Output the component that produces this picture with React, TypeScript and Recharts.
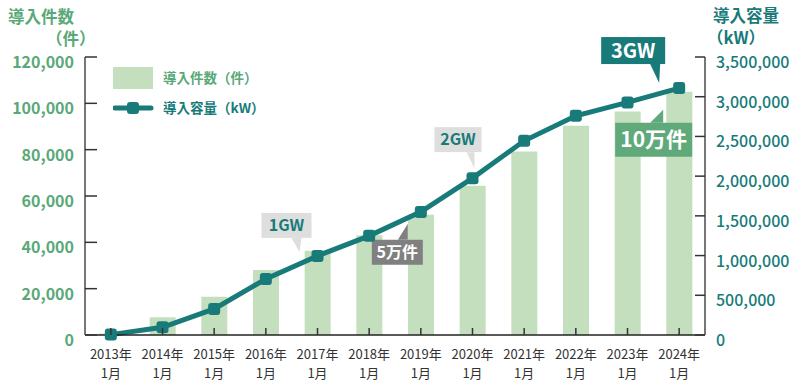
import React from 'react';
import { ComposedChart, Bar, Line, XAxis, YAxis, ReferenceDot, Legend } from 'recharts';

const years = ['2013年', '2014年', '2015年', '2016年', '2017年', '2018年', '2019年', '2020年', '2021年', '2022年', '2023年', '2024年'];
const monthLabel = '1月';
const installCounts = [600, 7650, 16550, 28100, 36400, 43100, 51900, 64400, 79200, 90300, 96500, 105000];
const capacityKw = [5000, 97000, 328000, 706000, 996000, 1248000, 1550000, 1975000, 2445000, 2760000, 2928000, 3109000];
const countTicks = [0, 20000, 40000, 60000, 80000, 100000, 120000];
const capacityTicks = [0, 500000, 1000000, 1500000, 2000000, 2500000, 3000000, 3500000];

const countName = '導入件数（件）';
const capacityName = '導入容量（kW）';

const GREEN = '#5aa878';
const TEAL = '#187b7a';
const BAR = '#c4dfbe';
const FONT = '"Noto Sans CJK JP", "Noto Sans", sans-serif';

const data = years.map((year, i) => ({ year, count: installCounts[i], capacity: capacityKw[i] }));

// callouts: anchored to a data point, offsets in px from that point
const callouts = [
  { text: '1GW', year: '2017年', axis: 'right', key: 'capacity', fill: '#dedede', color: TEAL, size: 16,
    box: [-56, -43, 50, 25], tail: [[-26, -18], [-16, -18], [-18, -4]] },
  { text: '5万件', year: '2019年', axis: 'left', key: 'count', fill: '#808080', color: '#fff', size: 16,
    box: [-49, 25, 51, 25], tail: [[-23, 25], [-13, 25], [-13, 9]] },
  { text: '2GW', year: '2020年', axis: 'right', key: 'capacity', fill: '#dedede', color: TEAL, size: 16,
    box: [-38, -51, 47, 25], tail: [[-6, -26], [2, -26], [2, -10]] },
  { text: '3GW', year: '2024年', axis: 'right', key: 'capacity', fill: TEAL, color: '#fff', size: 20,
    box: [-78, -51, 64, 27], tail: [[-29, -24], [-19, -24], [-20, -5]] },
  { text: '10万件', year: '2024年', axis: 'left', key: 'count', fill: '#5fa97b', color: '#fff', size: 21,
    box: [-64, 31, 77, 34], tail: [[-29, 31], [-16, 31], [-16, 18]] },
];

const LeftTick = (props: any) => {
  const { x, y, payload } = props;
  return (
    <g>
      <line x1={x} x2={x + 12} y1={y} y2={y} stroke="#333" strokeWidth={1.5} />
      <text x={x - 11} y={y} dy={11} textAnchor="end" fill={GREEN} fontSize={16} fontWeight={700} fontFamily={FONT}>
        {payload.value.toLocaleString('en-US')}
      </text>
    </g>
  );
};

const RightTick = (props: any) => {
  const { x, y, payload } = props;
  return (
    <g>
      <line x1={x - 10} x2={x} y1={y} y2={y} stroke="#333" strokeWidth={1.5} />
      <text x={x + 11} y={y} dy={11} textAnchor="start" fill={TEAL} fontSize={16} fontWeight={500} fontFamily={FONT}>
        {payload.value.toLocaleString('en-US')}
      </text>
    </g>
  );
};

const YearTick = (props: any) => {
  const { x, y, payload } = props;
  return (
    <g>
      <line x1={x} x2={x} y1={y} y2={y - 7} stroke="#333" strokeWidth={1.5} />
      <text x={x} y={y + 24} textAnchor="middle" fill="#333" fontSize={13} fontFamily={FONT}>{payload.value}</text>
      <text x={x} y={y + 43} textAnchor="middle" fill="#333" fontSize={13} fontFamily={FONT}>{monthLabel}</text>
    </g>
  );
};

const SquareDot = (props: any) => {
  const { cx, cy, index } = props;
  return <rect key={`dot-${index}`} x={cx - 6} y={cy - 6} width={12} height={12} rx={3} fill={TEAL} />;
};

const makeCallout = (c: any) => (props: any) => {
  const { cx, cy } = props;
  const [bx, by, bw, bh] = c.box;
  const pts = c.tail.map((p: number[]) => `${cx + p[0]},${cy + p[1]}`).join(' ');
  return (
    <g>
      <polygon points={pts} fill={c.fill} />
      <rect x={cx + bx} y={cy + by} width={bw} height={bh} fill={c.fill} />
      <text x={cx + bx + bw / 2} y={cy + by + bh / 2} dy={c.size * 0.36} textAnchor="middle"
        fill={c.color} fontSize={c.size} fontWeight={700} fontFamily={FONT}>{c.text}</text>
    </g>
  );
};

const renderLegend = () => (
  <svg width={200} height={56} style={{ display: 'block' }}>
    <rect x={0} y={0} width={40} height={22} fill={BAR} />
    <text x={50} y={16} fill={GREEN} fontSize={13.5} fontWeight={700} fontFamily={FONT}>{countName}</text>
    <line x1={2} x2={38} y1={41} y2={41} stroke={TEAL} strokeWidth={5} strokeLinecap="round" />
    <rect x={14} y={35} width={12} height={12} rx={3} fill={TEAL} />
    <text x={50} y={46} fill={TEAL} fontSize={13.5} fontWeight={700} fontFamily={FONT}>{capacityName}</text>
  </svg>
);

export default function App() {
  return (
    <div style={{ position: 'absolute', left: 0, top: 0, width: 800, height: 390, background: '#fff', fontFamily: FONT }}>
      <div style={{ position: 'absolute', left: 8, top: 5, color: GREEN, fontSize: 16.5, fontWeight: 700, lineHeight: '22px' }}>
        導入件数<br /><span style={{ paddingLeft: 38 }}>（件）</span>
      </div>
      <div style={{ position: 'absolute', left: 713, top: 4, color: TEAL, fontSize: 16.5, fontWeight: 700, lineHeight: '22px' }}>
        導入容量<br /><span style={{ marginLeft: -6 }}>（kW）</span>
      </div>
      <ComposedChart width={800} height={390} data={data} margin={{ top: 57, right: 0, bottom: 0, left: 0 }}>
        <Legend layout="vertical" align="center" verticalAlign="middle" content={renderLegend}
          wrapperStyle={{ position: 'absolute', left: 113, top: 67, width: 200, height: 56 }} />
        <Bar yAxisId="left" dataKey="count" name={countName} fill={BAR} barSize={26} isAnimationActive={false} />
        <XAxis dataKey="year" interval={0} tickLine={false} tickSize={0} tickMargin={0} height={55}
          axisLine={{ stroke: '#222', strokeWidth: 1.5 }} tick={<YearTick />} />
        <YAxis yAxisId="left" orientation="left" width={85} domain={[0, 120000]} ticks={countTicks}
          tickLine={false} tickSize={0} tickMargin={0} axisLine={{ stroke: '#777', strokeWidth: 2 }} tick={<LeftTick />} />
        <YAxis yAxisId="right" orientation="right" width={95} domain={[0, 3500000]} ticks={capacityTicks}
          tickLine={false} tickSize={0} tickMargin={0} axisLine={{ stroke: '#777', strokeWidth: 2 }} tick={<RightTick />} />
        <Line yAxisId="right" dataKey="capacity" name={capacityName} stroke={TEAL} strokeWidth={5}
          dot={SquareDot} activeDot={false} isAnimationActive={false} />
        {callouts.map((c, i) => {
          const idx = years.indexOf(c.year);
          const value = c.key === 'count' ? installCounts[idx] : capacityKw[idx];
          return (
            <ReferenceDot key={i} yAxisId={c.axis} x={c.year} y={value} ifOverflow="visible" shape={makeCallout(c)} />
          );
        })}
      </ComposedChart>
    </div>
  );
}
